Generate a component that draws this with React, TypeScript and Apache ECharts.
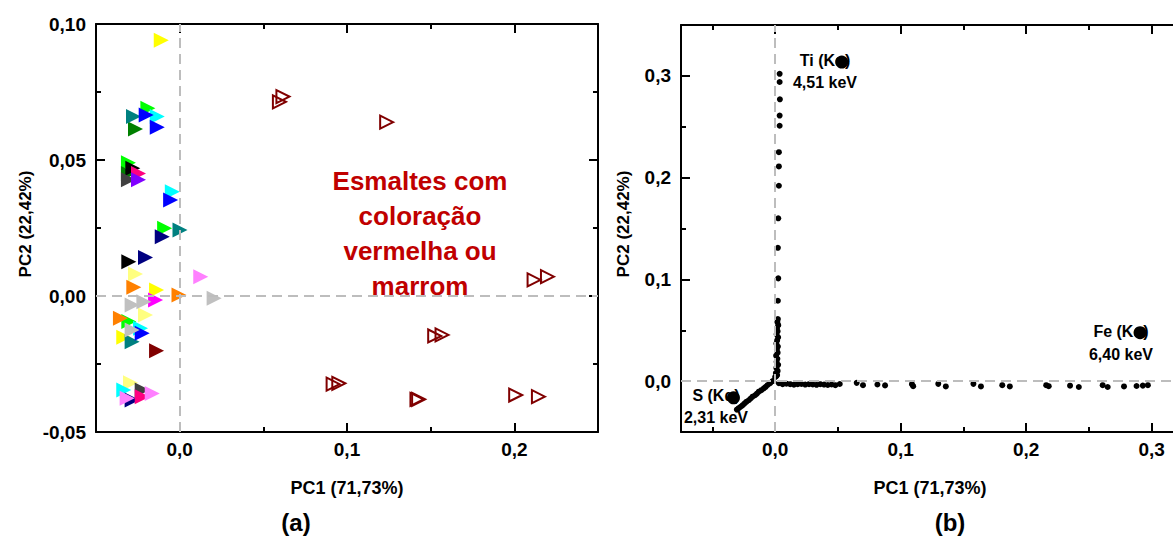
import React, { useEffect, useRef } from 'react';
import * as echarts from 'echarts';

// ---------- Panel (a): PCA scores of enamel samples ----------
const yellowPts = [[-0.011, 0.094], [-0.0138, 0.0022], [-0.0334, -0.0152]];
const khakiPts = [[-0.0264, 0.0081], [-0.0204, -0.007], [-0.0294, -0.0319]];
const limePts = [[-0.019, 0.069], [-0.0306, 0.049], [-0.009, 0.0249], [-0.0304, -0.0094]];
const greenPts = [[-0.0264, 0.0614], [-0.0306, 0.045]];
const tealPts = [[-0.0276, 0.066], [0.0002, 0.0243], [-0.0284, -0.0168]];
const cyanPts = [[-0.0134, 0.066], [-0.0044, 0.0383], [-0.0234, -0.0119], [-0.0334, -0.0346]];
const bluePts = [[-0.02, 0.0665], [-0.0134, 0.062], [-0.0054, 0.0353], [-0.0224, -0.0137]];
const navyPts = [[-0.0104, 0.0218], [-0.0204, 0.0142], [-0.0284, -0.0382]];
const blackPts = [[-0.028, 0.047], [-0.0304, 0.0126]];
const grayPts = [[-0.0306, 0.0427], [-0.0224, -0.0346]];
const pinkPts = [[-0.0246, 0.045], [-0.0224, -0.037]];
const purplePts = [[-0.0246, 0.0427]];
const orangePts = [[-0.0274, 0.0032], [-0.0004, 0.0004], [-0.0354, -0.0082]];
const violetPts = [[0.0126, 0.0071], [-0.0164, -0.0358], [-0.0314, -0.0376]];
const magentaPts = [[-0.0144, -0.0015]];
const silverPts = [[0.0206, -0.0008], [-0.0284, -0.0033], [-0.0214, -0.0021], [-0.0284, -0.0125]];
const maroonPts = [[-0.0138, -0.0201]];
const redBrownPts = [
  [0.0617, 0.0733], [0.0596, 0.0714], [0.1237, 0.0639], [0.2118, 0.0059], [0.2198, 0.0071],
  [0.1524, -0.0147], [0.1568, -0.0143], [0.0917, -0.0324], [0.0951, -0.0321],
  [0.1418, -0.038], [0.1428, -0.038], [0.2008, -0.0364], [0.2144, -0.037],
];

// ---------- Panel (b): PCA loadings (energy channels) ----------
const loadVerticalSparse = [
  [0.0036, 0.302], [0.0036, 0.294], [0.0038, 0.277], [0.0036, 0.261], [0.0036, 0.251],
  [0.003, 0.225], [0.003, 0.211], [0.003, 0.192], [0.0025, 0.16], [0.0022, 0.131],
  [0.0025, 0.101], [0.0022, 0.079],
];
const loadVerticalDense = [
  [0.0022, 0.061], [0.0018, 0.058], [0.0025, 0.055], [0.0015, 0.052], [0.002, 0.049],
  [0.0012, 0.046], [0.0024, 0.043], [0.0016, 0.04], [0.001, 0.037], [0.0022, 0.034],
  [0.0014, 0.031], [0.002, 0.028], [0.0008, 0.025], [0.0018, 0.022], [0.0012, 0.019],
  [0.0024, 0.016], [0.001, 0.013], [0.002, 0.01], [0.0006, 0.008], [0.0016, 0.006],
  [0.0, 0.004], [0.001, 0.005],
];
const loadDiagonal = [
  [-0.002, 0.0], [-0.004, -0.002], [-0.006, -0.0038], [-0.0075, -0.0056], [-0.009, -0.0071],
  [-0.011, -0.0089], [-0.013, -0.0104], [-0.0145, -0.0122], [-0.016, -0.0139], [-0.018, -0.0153],
  [-0.0195, -0.0171], [-0.021, -0.0188], [-0.023, -0.0204], [-0.0245, -0.0221], [-0.026, -0.0238],
  [-0.0275, -0.0252], [-0.029, -0.0266], [-0.0305, -0.028],
];
const loadHorizontalDense = [
  [0.003, -0.002], [0.006, -0.003], [0.009, -0.0025], [0.012, -0.003], [0.015, -0.0035],
  [0.018, -0.003], [0.021, -0.0028], [0.024, -0.0034], [0.027, -0.003], [0.03, -0.0032],
  [0.033, -0.0036], [0.036, -0.003], [0.039, -0.0034], [0.042, -0.0038], [0.045, -0.0033],
  [0.048, -0.004], [0.0515, -0.0028],
];
const loadHorizontalSparse = [
  [0.065, -0.0017], [0.07, -0.004], [0.0815, -0.0033], [0.0876, -0.0042], [0.109, -0.003],
  [0.11, -0.005], [0.13, -0.0027], [0.136, -0.0052], [0.158, -0.0027], [0.164, -0.0052],
  [0.181, -0.004], [0.187, -0.0052], [0.216, -0.004], [0.218, -0.005], [0.235, -0.0045],
  [0.242, -0.0058], [0.261, -0.004], [0.265, -0.0058], [0.278, -0.0052], [0.288, -0.0048],
  [0.293, -0.0044], [0.297, -0.004],
];
const elementPeaks = [[-0.0332, -0.0164], [0.0531, 0.3136], [0.2908, 0.0476]];

// ---------- Axis ticks ----------
const aXMajor = [0, 0.1, 0.2];
const aXMinor = [-0.05, 0.05, 0.15, 0.25];
const aYMajor = [-0.05, 0, 0.05, 0.1];
const aYMinor = [-0.025, 0.025, 0.075];
const bXMajor = [0, 0.1, 0.2, 0.3];
const bXMinor = [-0.05, 0.05, 0.15, 0.25];
const bYMajor = [0, 0.1, 0.2, 0.3];
const bYMinor = [-0.05, 0.05, 0.15, 0.25];

const FONT = '"Liberation Sans", Arial, Helvetica, sans-serif';
const fmt1 = (v: number) => v.toFixed(1).replace('.', ',');
const fmt2 = (v: number) => v.toFixed(2).replace('.', ',');

function makeAxes(dim: 'x' | 'y', grid: number, min: number, max: number, major: number[], minor: number[], fmt: (v: number) => string) {
  const mainPos = dim === 'x' ? 'bottom' : 'left';
  const oppPos = dim === 'x' ? 'top' : 'right';
  const base = {
    type: 'value', gridIndex: grid, min, max,
    splitLine: { show: false },
  };
  const line = { show: true, onZero: false, lineStyle: { color: '#000', width: 2 } };
  const noLine = { show: false, onZero: false };
  const tickMajor = { show: true, inside: true, length: 9, customValues: major, lineStyle: { color: '#000', width: 2 } };
  const tickMinor = { show: true, inside: true, length: 5, customValues: minor, lineStyle: { color: '#000', width: 2 } };
  return [
    {
      ...base, position: mainPos, axisLine: line, axisTick: tickMajor,
      axisLabel: {
        show: true, customValues: major, formatter: fmt, color: '#000', fontSize: 19,
        fontWeight: 'bold', fontFamily: FONT, margin: dim === 'x' ? 8 : 10,
      },
    },
    { ...base, position: mainPos, axisLine: noLine, axisTick: tickMinor, axisLabel: { show: false } },
    { ...base, position: oppPos, axisLine: line, axisTick: tickMajor, axisLabel: { show: false } },
    { ...base, position: oppPos, axisLine: noLine, axisTick: tickMinor, axisLabel: { show: false } },
  ];
}

const tri = (name: string, data: number[][], color: string) => ({
  name, type: 'scatter', xAxisIndex: 0, yAxisIndex: 0, data,
  symbol: 'triangle', symbolRotate: -90, symbolSize: 15, z: 3,
  itemStyle: { color, opacity: 1 },
});

const zeroLines = (xi: number, yi: number) => ({
  type: 'scatter', xAxisIndex: xi, yAxisIndex: yi, data: [], z: 1, silent: true,
  markLine: {
    silent: true, symbol: ['none', 'none'], animation: false,
    label: { show: false },
    lineStyle: { color: '#BDBDBD', type: [10, 6], width: 2 },
    data: [{ xAxis: 0 }, { yAxis: 0 }],
  },
});

const dots = (data: number[][], size: number) => ({
  type: 'scatter', xAxisIndex: 4, yAxisIndex: 4, data, symbol: 'circle', symbolSize: size, z: 4,
  itemStyle: { color: '#000', opacity: 1 },
});

const txt = (text: string, x: number, y: number, fontSize: number, extra: any = {}) => ({
  type: 'text', x, y, z: 1, ...extra,
  style: {
    text, fontSize, fontWeight: 'bold', fontFamily: FONT, fill: extra.fill || '#000',
    align: 'center', verticalAlign: 'middle', lineHeight: extra.lineHeight,
  },
});

export default function App() {
  const ref = useRef<HTMLDivElement>(null);
  useEffect(() => {
    const chart = echarts.init(ref.current!, null, { renderer: 'svg' });
    const option: any = {
      animation: false,
      backgroundColor: '#fff',
      grid: [
        { left: 96, top: 24, width: 502, height: 408, outerBoundsMode: 'none', containLabel: false },
        { left: 681, top: 25, width: 502, height: 407, outerBoundsMode: 'none', containLabel: false },
      ],
      xAxis: [
        ...makeAxes('x', 0, -0.05, 0.25, aXMajor, aXMinor, fmt1),
        ...makeAxes('x', 1, -0.075, 0.325, bXMajor, bXMinor, fmt1),
      ],
      yAxis: [
        ...makeAxes('y', 0, -0.05, 0.1, aYMajor, aYMinor, fmt2),
        ...makeAxes('y', 1, -0.05, 0.35, bYMajor, bYMinor, fmt1),
      ],
      series: [
        zeroLines(0, 0),
        zeroLines(4, 4),
        tri('yellow', yellowPts, '#FFFF00'),
        tri('khaki', khakiPts, '#FFFF80'),
        tri('lime', limePts, '#00FF00'),
        tri('green', greenPts, '#008000'),
        tri('teal', tealPts, '#008080'),
        tri('cyan', cyanPts, '#00FFFF'),
        tri('blue', bluePts, '#0000FF'),
        tri('navy', navyPts, '#000080'),
        tri('black', blackPts, '#000000'),
        tri('gray', grayPts, '#404040'),
        tri('pink', pinkPts, '#FF0080'),
        tri('purple', purplePts, '#8000FF'),
        tri('orange', orangePts, '#FF8000'),
        tri('violet', violetPts, '#FF80FF'),
        tri('magenta', magentaPts, '#FF00FF'),
        tri('silver', silverPts, '#C0C0C0'),
        tri('maroon', maroonPts, '#800000'),
        {
          name: 'redBrown', type: 'scatter', xAxisIndex: 0, yAxisIndex: 0, data: redBrownPts,
          symbol: 'triangle', symbolRotate: -90, symbolSize: 13, z: 3,
          itemStyle: { color: 'rgba(255,255,255,0)', borderColor: '#800000', borderWidth: 2, opacity: 1 },
        },
        dots(loadVerticalSparse, 6),
        dots(loadVerticalDense, 6),
        dots(loadDiagonal, 6),
        dots(loadHorizontalDense, 6),
        dots(loadHorizontalSparse, 6),
        { ...dots(elementPeaks, 13), z: 10 },
      ],
      graphic: [
        txt('PC2 (22,42%)', 25, 224, 17, { rotation: Math.PI / 2 }),
        txt('PC1 (71,73%)', 347, 488, 18),
        txt('(a)', 296, 522, 24),
        txt('PC2 (22,42%)', 623, 224, 17, { rotation: Math.PI / 2 }),
        txt('PC1 (71,73%)', 930, 488, 18),
        txt('(b)', 950, 522, 24),
        txt('Esmaltes com\ncoloração\nvermelha ou\nmarrom', 420, 233, 26, { fill: '#C00000', lineHeight: 35 }),
        txt('Ti (Kα)', 825, 60, 16),
        txt('4,51 keV', 825, 82, 16),
        txt('S (Kα)', 716, 395, 16),
        txt('2,31 keV', 716, 417, 16),
        txt('Fe (Kα)', 1121, 331, 16),
        txt('6,40 keV', 1121, 354, 16),
      ],
    };
    chart.setOption(option);
    return () => chart.dispose();
  }, []);
  return <div ref={ref} style={{ position: 'absolute', left: 0, top: 0, width: 1173, height: 538 }} />;
}
